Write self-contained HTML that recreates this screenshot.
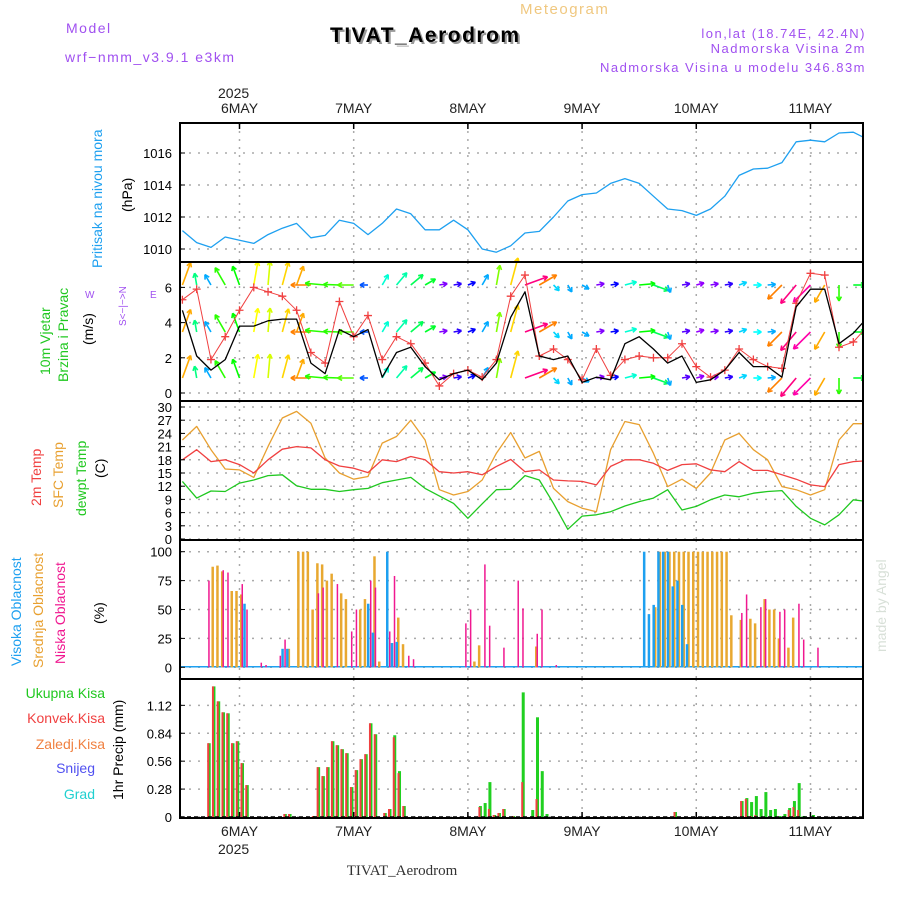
<!DOCTYPE html>
<html><head><meta charset="utf-8"><style>
body{margin:0;background:#fff;}
svg{display:block;font-family:"Liberation Sans",sans-serif;}
</style></head><body>
<svg id="chart" width="900" height="900" viewBox="0 0 900 900" xmlns="http://www.w3.org/2000/svg">
<defs><clipPath id="plotclip"><rect x="180" y="123" width="683" height="695"/></clipPath></defs>
<rect width="900" height="900" fill="#fff"/>
<g font-size="14" letter-spacing="1.5">
<text x="66" y="33" fill="#a050f0">Model</text>
<text x="65" y="62" fill="#a050f0">wrf−nmm_v3.9.1 e3km</text>
<text x="520" y="14" fill="#f0c880" font-size="15">Meteogram</text>
<text x="332" y="44" fill="#999" font-size="21" font-weight="bold">TIVAT_Aerodrom</text>
<text x="330" y="42" fill="#000" font-size="21" font-weight="bold">TIVAT_Aerodrom</text>
<text x="866" y="38" fill="#a050f0" text-anchor="end" font-size="13">lon,lat (18.74E, 42.4N)</text>
<text x="866" y="53" fill="#a050f0" text-anchor="end" font-size="13">Nadmorska Visina 2m</text>
<text x="866" y="72" fill="#a050f0" text-anchor="end" font-size="13">Nadmorska Visina u modelu 346.83m</text>
</g>
<g id="grid"></g>
<g id="marks" clip-path="url(#plotclip)"></g>
<g id="frames"></g>
<g id="labels" font-size="13"></g>
<g font-size="14">
<text transform="translate(102,268) rotate(-90)" fill="#1ea0f0">Pritisak na nivou mora</text>
<text transform="translate(132,212) rotate(-90)" fill="#000">(hPa)</text>
<text transform="translate(50,375) rotate(-90)" fill="#20c820">10m Vjetar</text>
<text transform="translate(68,382) rotate(-90)" fill="#20c820">Brzina i Pravac</text>
<text transform="translate(93,345) rotate(-90)" fill="#000">(m/s)</text>
<text transform="translate(126,326) rotate(-90)" fill="#a050f0" font-size="10">S&lt;−|−&gt;N</text>
<text x="85" y="298" fill="#a050f0" font-size="10">W</text>
<text x="150" y="298" fill="#a050f0" font-size="10">E</text>
<text transform="translate(41,506) rotate(-90)" fill="#f04040">2m Temp</text>
<text transform="translate(63,508) rotate(-90)" fill="#e8a030">SFC Temp</text>
<text transform="translate(86,516) rotate(-90)" fill="#20c820">dewpt Temp</text>
<text transform="translate(105,478) rotate(-90)" fill="#000">(C)</text>
<text transform="translate(21,666) rotate(-90)" fill="#1ea0f0">Visoka Oblacnost</text>
<text transform="translate(43,668) rotate(-90)" fill="#e8a030">Srednja Oblacnost</text>
<text transform="translate(65,664) rotate(-90)" fill="#f01890">Niska Oblacnost</text>
<text transform="translate(104,624) rotate(-90)" fill="#000">(%)</text>
<text transform="translate(123,800) rotate(-90)" fill="#000">1hr Precip (mm)</text>
<text x="105" y="698" text-anchor="end" fill="#20c820">Ukupna Kisa</text>
<text x="105" y="723" text-anchor="end" fill="#f04040">Konvek.Kisa</text>
<text x="105" y="749" text-anchor="end" fill="#f08040">Zaledj.Kisa</text>
<text x="95" y="773" text-anchor="end" fill="#5050f0">Snijeg</text>
<text x="95" y="799" text-anchor="end" fill="#20d0d0">Grad</text>
<text transform="translate(886,652) rotate(-90)" fill="#d8e0d8">made by Angel</text>
<text x="402" y="875" text-anchor="middle" fill="#333" font-family="Liberation Serif, serif" font-size="15">TIVAT_Aerodrom</text>
<text x="218" y="98" fill="#222">2025</text>
<text x="218" y="854" fill="#222">2025</text>
</g>
</svg>
<script>
// ---------- data ----------
const hours3 = [-12,-9,-6,-3,0,3,6,9,12,15,18,21,24,27,30,33,36,39,42,45,48,51,54,57,60,63,66,69,72,75,78,81,84,87,90,93,96,99,102,105,108,111,114,117,120,123,126,129,132];
const pressure = [1011.15,1010.4,1010.1,1010.75,1010.55,1010.35,1010.9,1011.3,1011.6,1010.7,1010.85,1011.8,1011.6,1010.9,1011.6,1012.5,1012.2,1011.2,1011.2,1011.8,1011.2,1010.0,1009.8,1010.2,1011.0,1011.1,1012.0,1013.0,1013.4,1013.5,1014.1,1014.4,1014.1,1013.3,1012.5,1012.4,1012.1,1012.5,1013.3,1014.6,1015.0,1015.05,1015.4,1016.7,1016.8,1016.7,1017.25,1017.3,1016.85];
const windSpeed = [4.7,2.1,1.3,1.9,3.8,3.8,4.1,4.2,4.2,1.7,1.1,3.6,3.2,3.6,0.9,2.3,2.6,1.5,0.75,1.1,1.3,0.75,1.7,4.3,5.75,2.1,1.9,2.1,0.6,0.9,0.75,2.8,3.2,2.5,1.7,2.1,0.6,0.75,1.3,2.3,1.5,1.5,0.9,4.9,5.9,5.9,2.8,3.4,4.3];
const windGust = [5.3,5.9,1.9,3.2,4.7,6.0,5.75,5.5,4.7,2.3,1.7,5.2,3.2,4.4,1.9,3.2,2.8,1.7,0.4,1.1,1.3,0.9,1.9,5.5,6.7,2.1,2.5,1.9,0.75,2.5,1.0,1.9,2.1,2.0,2.0,2.8,1.5,0.9,1.3,2.5,1.9,1.5,1.4,5.1,6.8,6.7,2.6,2.9,3.8];
const windDir = [70,100,120,120,110,80,85,75,70,180,175,178,180,180,60,50,40,30,10,10,20,60,80,75,20,30,-45,-60,-30,10,10,15,5,-20,-70,10,15,10,10,20,0,5,225,230,225,240,-90,0,0];
const windLen = [6,3,3,5,5,6,6,6,5,5,5,4,4,2,3,4,4,3,2,2,2,3,5,7,6,5,2,2,2,2,2,3,4,4,2,2,2,2,2,2,2,2,5,6,6,5,4,3,3];
const windHue = [40,150,200,110,120,60,70,50,40,30,110,110,100,220,170,160,140,130,270,250,240,200,90,50,330,30,190,200,200,270,240,170,120,140,200,260,275,270,250,190,180,200,30,330,320,40,110,130,120];
const temp2m = [18.0,20.3,17.6,18.0,16.9,15.0,18.0,20.4,21.0,20.7,18.0,16.6,16.1,15.1,18.0,17.6,18.75,18.0,15.3,15.0,15.3,14.6,16.5,18.1,15.3,15.7,13.4,13.2,13.1,12.3,16.5,18.0,18.0,17.2,15.6,16.9,17.1,15.7,15.3,17.6,15.6,15.6,14.6,13.6,12.3,11.9,16.9,17.6,17.8];
const tempSfc = [22.5,25.6,20.3,15.9,15.7,14.0,21.0,27.5,29.0,26.3,18.4,15.0,13.6,14.2,21.8,23.3,27.0,22.5,11.2,10.0,10.8,13.4,19.5,24.2,18.4,19.9,11.5,8.5,7.0,6.2,20.3,26.7,26.0,19.5,11.9,13.6,11.5,15.0,22.5,24.0,20.3,18.0,11.9,11.2,10.0,11.2,22.5,26.2,26.2];
const tempDew = [13.1,9.3,10.9,10.8,12.7,13.4,14.4,14.6,12.1,11.3,11.3,10.8,11.2,11.5,12.8,13.4,14.0,11.5,9.8,8.1,4.7,8.0,11.2,11.3,14.4,13.4,8.1,2.2,5.2,5.5,6.2,7.5,8.5,9.3,11.2,6.6,7.4,8.9,10.0,9.6,10.4,10.8,11.0,7.4,4.7,3.2,5.5,8.9,8.5];
const cloudHighHours = [1,9,10,27,28,31,32,33,85,86,87,88,89,90,91,92,93,94];
const cloudHigh = [55,16,16,55,30,100,21,22,100,46,54,100,100,100,70,75,54,20];
const cloudMidHours = [-6,-5,-4,-2,-1,0,10,12,13,14,15,16,17,18,19,21,22,25,26,28,29,33,34,49,50,62,87,88,89,90,91,92,93,94,95,96,97,98,99,100,101,102,103,105,107,108,110,111,112,113,115,116];
const cloudMid = [87,88,83,66,66,63,16,100,100,100,50,90,89,75,81,64,59,50,59,96,5,43,20,5,19,18,52,100,100,100,100,100,100,100,100,100,100,100,100,100,100,100,45,41,42,38,59,50,50,25,17,43];
const cloudLowHours = [-7,-4,-3,0,1,4,5,8,9,16,17,20,23,24,27,28,31,32,35,36,47,48,51,52,55,58,59,62,63,66,105,106,109,110,113,114,117,118,121];
const cloudLow = [75,84,82,72,50,4,2,10,24,64,69,72,31,50,75,69,31,79,10,7,38,50,89,36,17,75,51,29,50,2,47,63,52,59,48,50,55,24,17];
const precipHours = [-7,-6,-5,-4,-3,-2,-1,0,1,9,10,15,16,17,18,19,20,21,22,23,24,25,26,27,28,30,31,32,33,34,50,51,52,53,54,55,57,59,61,62,63,64,91,105,106,107,108,109,110,111,112,113,114,115,116,117,118,120];
const precipTotal = [0.74,1.31,1.16,1.05,1.04,0.74,0.76,0.54,0.32,0.03,0.03,0.01,0.50,0.41,0.50,0.76,0.72,0.68,0.64,0.30,0.47,0.58,0.63,0.94,0.83,0.04,0.08,0.82,0.46,0.11,0.11,0.14,0.35,0.02,0.04,0.08,0.01,1.25,0.07,1.00,0.46,0.03,0.05,0.16,0.19,0.15,0.21,0.08,0.25,0.07,0.08,0.01,0.03,0.09,0.16,0.34,0.01,0.02];
const precipConv = [0.74,1.31,1.16,1.05,1.04,0.74,0.76,0.54,0.32,0.03,0.03,0.01,0.50,0.41,0.50,0.76,0.72,0.68,0.64,0.30,0.47,0.58,0.63,0.94,0.83,0.04,0.08,0.80,0.44,0.11,0.10,0,0.08,0.02,0.04,0.08,0.01,0.35,0,0.18,0,0,0.05,0.16,0.18,0.01,0.02,0,0,0,0,0,0,0.07,0.10,0.07,0,0];
const dayHours = [0,24,48,72,96,120];
const dayLabels = ["6MAY","7MAY","8MAY","9MAY","10MAY","11MAY"];
const pressureTicks = [1010,1012,1014,1016];
const windTicks = [0,2,4,6];
const tempTicks = [0,3,6,9,12,15,18,21,24,27,30];
const cloudTicks = [0,25,50,75,100];
const precipTicks = [0,0.28,0.56,0.84,1.12];

// ---------- scales ----------
const L=180,R=863;
const x = h => 239.5 + h*4.758;
const yP = p => 249 - (p-1010)*16;
const yW = v => 393 - v*17.6;
const yT = t => 539 - t*4.4;
const yC = c => 667.3 - c*1.156;
const yR = r => 817 - r*99.7;
const panels = [[123,262],[262,401],[401,540],[540,679],[679,818]];
const NS="http://www.w3.org/2000/svg";
function mk(tag, parent, attrs){const e=document.createElementNS(NS,tag);for(const k in attrs)e.setAttribute(k,attrs[k]);parent.appendChild(e);return e;}
const grid=document.getElementById('grid'), marks=document.getElementById('marks'), frames=document.getElementById('frames'), labels=document.getElementById('labels');

panels.forEach(([t,b])=>{
  dayHours.forEach(h=>{
    const l=mk('line',grid,{x1:x(h),x2:x(h),y1:t,y2:b,stroke:'#aaa','stroke-width':1.5,'stroke-dasharray':'2,6'});
    
    
  });
});
function hgrid(ticks, sc, fmt, name){
  ticks.forEach(v=>{
    const y=sc(v);
    const l=mk('line',grid,{x1:L,x2:R,y1:y,y2:y,stroke:'#aaa','stroke-width':1.5,'stroke-dasharray':'2,7'});
    
    
    const tk=mk('line',frames,{x1:L,x2:L+5,y1:y,y2:y,stroke:'#000','stroke-width':1});
    
    
    const t=mk('text',labels,{x:172,y:y+5,'text-anchor':'end',fill:'#000'});
    t.textContent=fmt(v);
    
    
  });
}
hgrid(pressureTicks,yP,v=>v,'pressure');
hgrid(windTicks,yW,v=>v,'wind');
hgrid(tempTicks,yT,v=>v,'temp');
hgrid(cloudTicks,yC,v=>v,'cloud');
hgrid(precipTicks,yR,v=>v===0?'0':v.toFixed(2),'precip');

dayHours.forEach((h,i)=>{
  [113,836].forEach((y,j)=>{
    const t=mk('text',labels,{x:x(h),y:y,'text-anchor':'middle',fill:'#222','font-size':14});
    t.textContent=dayLabels[i];
    
    
  });
  [[123,129],[812,818]].forEach(([a,b])=>{
    const tk=mk('line',frames,{x1:x(h),x2:x(h),y1:a,y2:b,stroke:'#000','stroke-width':1.5});
    
    
  });
});

function line(vals, sc, color, name, w){
  const d=vals.map((v,i)=>(i?'L':'M')+x(hours3[i]).toFixed(1)+','+sc(v).toFixed(1)).join('');
  const p=mk('path',marks,{d:d,fill:'none',stroke:color,'stroke-width':w||1.3,'stroke-linejoin':'round'});
  
  
}
line(pressure,yP,'#1ea0f0','pressure-line');

const rows=[285,332,378];
rows.forEach((ry,ri)=>{
  hours3.forEach((h,i)=>{
    const a=windDir[i]*Math.PI/180, len=windLen[i]*4;
    const x0=x(h), x1=x0+Math.cos(a)*len, y1=ry-Math.sin(a)*len;
    const c='hsl('+windHue[i]+',100%,50%)';
    const g=mk('g',marks,{stroke:c,'stroke-width':1.6,fill:'none'});
    
    
    mk('line',g,{x1:x0,y1:ry,x2:x1,y2:y1});
    const ha=5;
    [a+Math.PI-0.5,a+Math.PI+0.5].forEach(b=>mk('line',g,{x1:x1,y1:y1,x2:x1+Math.cos(b)*ha,y2:y1-Math.sin(b)*ha}));
  });
});
line(windGust,yW,'#f04040','wind-gust-line',1);
hours3.forEach((h,i)=>{
  const cx=x(h), cy=yW(windGust[i]);
  const p=mk('path',marks,{d:`M${cx-4},${cy}H${cx+4}M${cx},${cy-4}V${cy+4}`,stroke:'#f04040','stroke-width':1.3});
  
  
});
line(windSpeed,yW,'#000','wind-speed-line');

line(tempSfc,yT,'#e8a030','sfc-temp-line');
line(temp2m,yT,'#f04040','temp-2m-line');
line(tempDew,yT,'#20c820','dewpoint-line');

function bars(hrs, vals, sc, color, off, w, name){
  hrs.forEach((h,i)=>{
    const y=sc(vals[i]), b=sc(0);
    const r=mk('rect',marks,{x:x(h)+off,y:y,width:w,height:Math.max(0,b-y),fill:color});
    
    
  });
}
const bl=mk('line',marks,{x1:L,x2:R,y1:yC(0)-0.5,y2:yC(0)-0.5,stroke:'#1ea0f0','stroke-width':1.5});


bars(cloudMidHours,cloudMid,yC,'#e8a830',0.5,2.5,'cloud-mid-bar');
bars(cloudHighHours,cloudHigh,yC,'#1ea0f0',-1,2.5,'cloud-high-bar');
bars(cloudLowHours,cloudLow,yC,'#f01890',2,1.5,'cloud-low-bar');
bars(precipHours,precipTotal,yR,'#20d020',1.5,3,'precip-total-bar');
bars(precipHours,precipConv,yR,'#f04040',1,2,'precip-convective-bar');
const pb=mk('line',marks,{x1:L,x2:R,y1:yR(0),y2:yR(0),stroke:'#000','stroke-width':1.5,'stroke-dasharray':'4,3'});



panels.forEach(([t,b],i)=>{
  const r=mk('rect',frames,{x:L,y:t,width:R-L,height:b-t,fill:'none',stroke:'#000','stroke-width':2});
  
  
});
</script>
</body></html>
